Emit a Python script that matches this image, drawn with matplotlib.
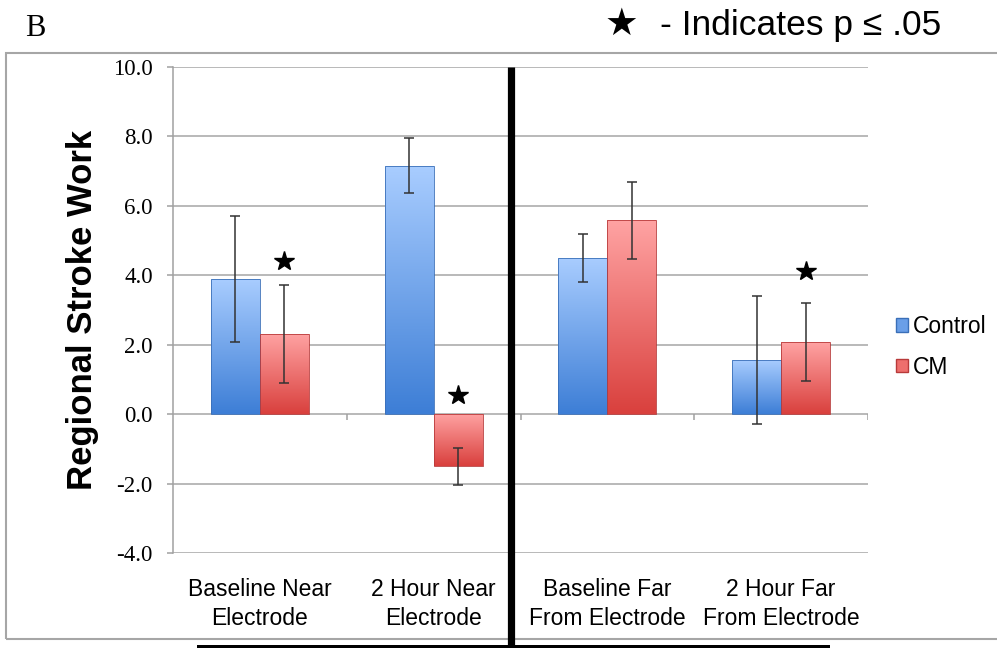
import numpy as np
import matplotlib
matplotlib.use("Agg")
import matplotlib.pyplot as plt
from matplotlib.colors import LinearSegmentedColormap
from matplotlib.patches import Patch, Rectangle
from matplotlib.lines import Line2D

# data
categories = ["Baseline Near\nElectrode", "2 Hour Near\nElectrode",
              "Baseline Far\nFrom Electrode", "2 Hour Far\nFrom Electrode"]
control = [3.9, 7.16, 4.5, 1.56]
control_err = [1.81, 0.80, 0.68, 1.84]
cm = [2.32, -1.5, 5.58, 2.07]
cm_err = [1.41, 0.53, 1.12, 1.12]
star_idx = [0, 1, 3]
star_y = [4.4, 0.55, 4.12]
yticks = [-4, -2, 0, 2, 4, 6, 8, 10]

W, H = 997, 648
fig = plt.figure(figsize=(W / 100, H / 100), dpi=100, facecolor="white")
ax = fig.add_axes([173 / W, 1 - 553 / H, (868 - 173) / W, (553 - 67) / H])

SANS = ["Liberation Sans", "DejaVu Sans"]
SERIF = ["Liberation Serif", "DejaVu Serif"]

x = np.arange(len(categories))
bw = 0.282
b1 = ax.bar(x - bw / 2, control, bw, zorder=3, edgecolor="#3a6fb8", linewidth=0.6)
b2 = ax.bar(x + bw / 2, cm, bw, zorder=3, edgecolor="#b83a3a", linewidth=0.6)


def gradient_fill(bars, top, bottom):
    cmap = LinearSegmentedColormap.from_list("g", [bottom, top])
    grad = np.linspace(0, 1, 256).reshape(-1, 1)
    for b in bars:
        x0, y0 = b.get_x(), b.get_y()
        w, h = b.get_width(), b.get_height()
        lo, hi = min(y0, y0 + h), max(y0, y0 + h)
        im = ax.imshow(grad, extent=[x0, x0 + w, lo, hi], origin="lower",
                       cmap=cmap, aspect="auto", zorder=2.9)
        im.set_clip_path(b)
        b.set_facecolor("none")


gradient_fill(b1, "#a9cdff", "#3d7ed6")
gradient_fill(b2, "#ffa3a3", "#d9403d")

ekw = dict(fmt="none", ecolor="#333333", elinewidth=1.1, capsize=3.3, capthick=1.1, zorder=4)
ax.errorbar(x - bw / 2, control, yerr=control_err, **ekw)
ax.errorbar(x + bw / 2, cm, yerr=cm_err, **ekw)

ax.plot(x[star_idx] + bw / 2, star_y, "*", color="black", markersize=15, zorder=5)

ax.set_xlim(-0.5, 3.5)
ax.set_ylim(-4, 10)
ax.set_yticks(yticks)
ax.set_yticklabels([f"{v:.1f}" for v in yticks], family=SERIF, fontsize=16.5)
ax.tick_params(axis="y", length=4.5, width=1.1, color="#a0a0a0", pad=10)
ax.set_xticks(x)
ax.set_xticklabels(categories, family=SANS, fontsize=16.5, linespacing=1.35)
ax.tick_params(axis="x", length=0, pad=18)
ax.yaxis.grid(True, color="#a6a6a6", linewidth=1.1, zorder=0)
ax.set_axisbelow(True)
for s in ["top", "right", "bottom"]:
    ax.spines[s].set_visible(False)
ax.spines["left"].set_color("#a0a0a0")
ax.spines["left"].set_linewidth(1.1)
# small category-boundary ticks on the zero line
ax.vlines([0.5, 1.5, 2.5, 3.5], 0, -0.17, color="#a0a0a0", linewidth=1.1, zorder=1)

ax.set_ylabel("Regional Stroke Work", family=SANS, fontsize=25, fontweight="bold", labelpad=10)

ax.legend(handles=[Patch(facecolor="#6a9fe8", edgecolor="#3a6fb8", label="Control"),
                   Patch(facecolor="#ee6f6d", edgecolor="#b83a3a", label="CM")],
          loc="center left", bbox_to_anchor=(875 / W, 1 - 347 / H), bbox_transform=fig.transFigure,
          frameon=False, prop={"family": SANS, "size": 16.5},
          handlelength=0.55, handleheight=0.55, handletextpad=0.2, labelspacing=0.75)

# outer frame, divider and annotations
fig.add_artist(Rectangle((6 / W, 1 - 639 / H), (1005 - 6) / W, (639 - 53) / H,
                         transform=fig.transFigure, fill=False, edgecolor="#a6a6a6", linewidth=1.5))
fig.add_artist(Line2D([511 / W, 511 / W], [1 - 67 / H, 0], transform=fig.transFigure,
                      color="black", linewidth=5.2, solid_capstyle="butt"))
fig.add_artist(Rectangle((197 / W, 0), (830 - 197) / W, 3.5 / H, transform=fig.transFigure,
                         facecolor="black", edgecolor="none"))
fig.text(25 / W, 1 - 29 / H, "B", family=SERIF, fontsize=22, va="center", ha="left")
fig.text(605 / W, 1 - 25 / H, "\u2605", family=["DejaVu Sans"], fontsize=27,
         va="center", ha="left")
fig.text(660 / W, 1 - 25 / H, "- Indicates p \u2264 .05", family=SANS, fontsize=25.5,
         va="center", ha="left")

fig.savefig("out.png", dpi=100)
